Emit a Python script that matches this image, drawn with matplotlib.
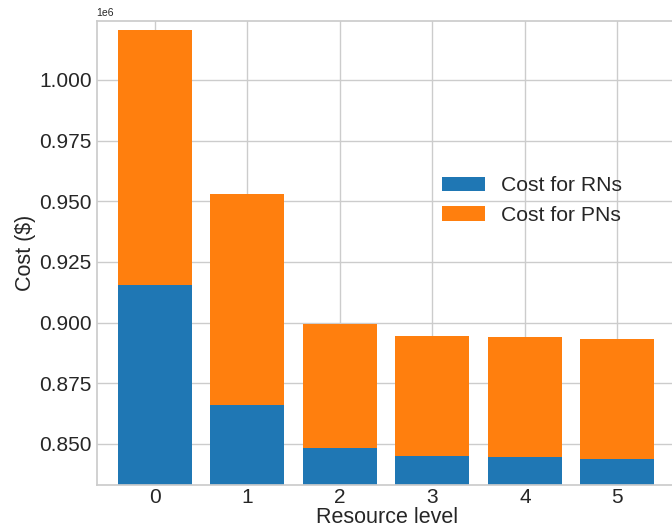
import matplotlib
matplotlib.use("Agg")
import matplotlib.pyplot as plt
import numpy as np

plt.style.use("seaborn-v0_8-whitegrid")
plt.rcParams["font.family"] = ["Liberation Sans", "DejaVu Sans"]

# Cost breakdown per resource level ($)
resource_levels = [0, 1, 2, 3, 4, 5]
cost_rns = [915400, 866100, 848500, 845200, 844600, 843800]
cost_pns = [105200, 86900, 51100, 49300, 49500, 49500]

text_color = "#262626"

fig = plt.figure(figsize=(6.72, 5.27), dpi=100)
ax = fig.add_axes([0.1439, 0.0806, 0.865, 0.8803])

x = np.arange(len(resource_levels))
ax.bar(x, cost_rns, width=0.8, color="#1f77b4", label="Cost for RNs", zorder=2)
ax.bar(x, cost_pns, width=0.8, bottom=cost_rns, color="#ff7f0e",
       label="Cost for PNs", zorder=2)

ax.set_xticks(x)
ax.set_xticklabels([str(v) for v in resource_levels])
ax.set_xlim(-0.63, 5.655)
ax.set_ylim(833300, 1024400)
ax.set_yticks(np.arange(850000, 1000001, 25000))

ax.tick_params(axis="both", labelsize=15, labelcolor=text_color, length=0)
ax.tick_params(axis="x", pad=2.8)
ax.yaxis.get_offset_text().set_fontsize(7.5)
ax.yaxis.get_offset_text().set_color(text_color)

ax.set_xlabel("Resource level", fontsize=15.5, color=text_color, labelpad=-0.3)
ax.set_ylabel("Cost ($)", fontsize=15.5, color=text_color, labelpad=2)

ax.grid(True, color="#cccccc", linewidth=1.0)
ax.set_axisbelow(True)
for spine in ax.spines.values():
    spine.set_color("#cccccc")
    spine.set_linewidth(1.25)

leg = ax.legend(loc="upper left", bbox_to_anchor=(0.562, 0.705),
                fontsize=15.2, frameon=False)
for t in leg.get_texts():
    t.set_color(text_color)

fig.savefig("out.png", dpi=100)
